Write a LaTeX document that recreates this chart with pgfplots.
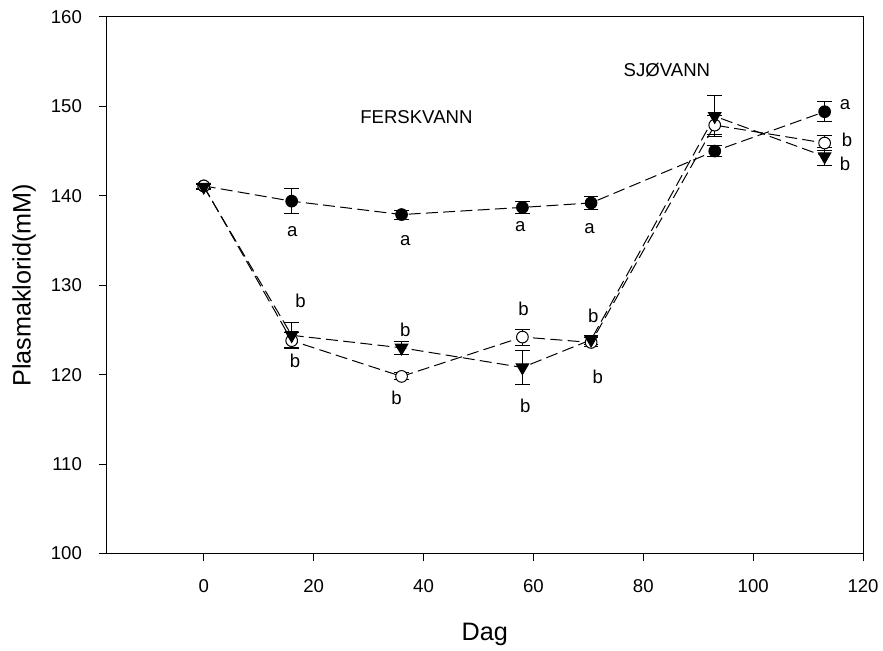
\documentclass[border=0pt]{standalone}
\usepackage{fontspec}
\setmainfont{Liberation Sans}
\usepackage{pgfplots}
\pgfplotsset{compat=1.18}
\tikzset{lab/.style={font=\fontsize{14}{16}\selectfont}}
\begin{document}
\begin{tikzpicture}
\begin{axis}[
  scale only axis, width=570pt, height=404.25pt,
  xmin=-17.7, xmax=120, ymin=100, ymax=160,
  xtick={0,20,...,120}, ytick={100,110,...,160},
  tick pos=left, tick align=outside, major tick length=6pt,
  axis line style={line width=0.75pt},
  every tick/.style={line width=0.75pt, black},
  /pgf/number format/assume math mode=true,
  xticklabel style={yshift=-10pt, font=\fontsize{14}{16}\selectfont},
  yticklabel style={xshift=-4.5pt, font=\fontsize{14}{16}\selectfont},
  yticklabel shift=4.5pt,
  xlabel={Dag}, ylabel={Plasmaklorid(mM)},
  every axis x label/.style={at={(axis description cs:0.5,0)}, anchor=center, yshift=-61pt, font=\fontsize{19}{22}\selectfont},
  every axis y label/.style={at={(axis description cs:0,0.5)}, xshift=-62pt, rotate=90, anchor=center, font=\fontsize{19}{22}\selectfont},
  clip=false,
]
\addplot[black, line width=0.75pt, dash pattern=on 9pt off 4pt, mark=*, mark size=4.4pt,
  mark options={solid, fill=black},
  error bars/.cd, y dir=both, y explicit,
  error bar style={solid, line width=0.75pt},
  error mark options={rotate=90, mark size=5.5pt, solid, line width=0.75pt}]
coordinates {
(0,141.1) +- (0,0.3)
(16,139.4) +- (0,1.4)
(36,137.9) +- (0,0.5)
(58,138.7) +- (0,0.7)
(70.5,139.2) +- (0,0.7)
(93,145.0) +- (0,0.6)
(113,149.4) +- (0,1.1)
};
\addplot[black, line width=0.75pt, dash pattern=on 9pt off 4pt, mark=*, mark size=4.4pt,
  mark options={solid, fill=white, draw=black},
  error bars/.cd, y dir=both, y explicit,
  error bar style={solid, line width=0.75pt},
  error mark options={rotate=90, mark size=5.5pt, solid, line width=0.75pt}]
coordinates {
(0,141.1) +- (0,0.3)
(16,123.8) +- (0,0.9)
(36,119.8) +- (0,0.4)
(58,124.2) +- (0,0.9)
(70.5,123.6) +- (0,0.5)
(93,147.9) +- (0,1.1)
(113,145.9) +- (0,0.8)
};
\addplot[black, line width=0.75pt, dash pattern=on 9pt off 4pt, mark=triangle*, mark size=5.4pt,
  mark options={solid, fill=black, rotate=180},
  error bars/.cd, y dir=both, y explicit,
  error bar style={solid, line width=0.75pt},
  error mark options={rotate=90, mark size=5.5pt, solid, line width=0.75pt}]
coordinates {
(0,141.0) +- (0,0.3)
(16,124.4) +- (0,1.4)
(36,123.0) +- (0,0.7)
(58,120.8) +- (0,1.9)
(70.5,123.9) +- (0,0.5)
(93,148.9) +- (0,2.3)
(113,144.4) +- (0,1.0)
};
\node[lab] at (axis cs:16.1,136.0) {a};
\node[lab] at (axis cs:36.7,135.0) {a};
\node[lab] at (axis cs:57.6,136.6) {a};
\node[lab] at (axis cs:70.2,136.3) {a};
\node[lab] at (axis cs:17.6,128.2) {b};
\node[lab] at (axis cs:16.6,121.5) {b};
\node[lab] at (axis cs:36.7,125.0) {b};
\node[lab] at (axis cs:35.1,117.4) {b};
\node[lab] at (axis cs:58.2,127.3) {b};
\node[lab] at (axis cs:58.5,116.5) {b};
\node[lab] at (axis cs:70.9,126.6) {b};
\node[lab] at (axis cs:71.7,119.7) {b};
\node[lab] at (axis cs:116.7,150.2) {a};
\node[lab] at (axis cs:117.1,146.3) {b};
\node[lab] at (axis cs:116.7,143.6) {b};
\node[lab] at (axis cs:38.7,148.75) {FERSKVANN};
\node[lab] at (axis cs:84.3,154.1) {SJØVANN};
\end{axis}
\path (current axis.south west) ++(-80.25pt,-69.75pt) rectangle ++(662.25pt,486.75pt);
\end{tikzpicture}
\end{document}
